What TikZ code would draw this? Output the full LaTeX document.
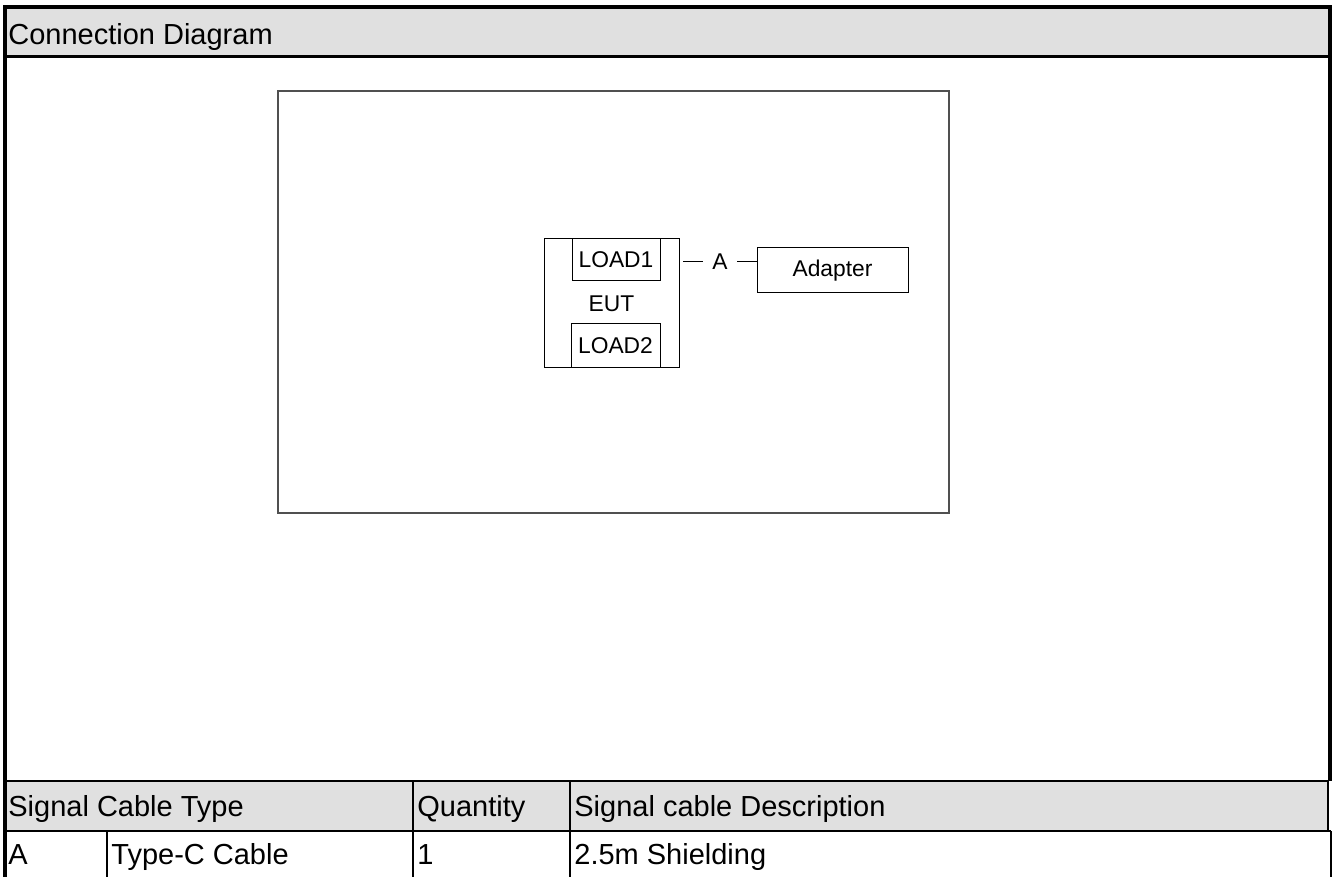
\documentclass[tikz,border=0pt]{standalone}
\usepackage{fontspec}
\setmainfont{Liberation Sans}
\usetikzlibrary{positioning}
\definecolor{hdrgray}{HTML}{E0E0E0}
\definecolor{boxgray}{HTML}{505050}

\begin{document}
\begin{tikzpicture}[x=0.5pt, y=-0.5pt,
    box/.style={draw, line width=0.5pt, inner sep=0pt, font=\fontsize{11.4}{13}\selectfont},
    cell/.style={anchor=base west, inner sep=0pt, font=\fontsize{14.5}{17}\selectfont},
    rule/.style={line width=1pt},
    frame/.style={line width=2pt}]
    \useasboundingbox (0,0) rectangle (1334,877);
    % title bar and table header
    \fill[hdrgray] (5,7) rectangle (1330,57);
    \fill[hdrgray] (5,781) rectangle (1328,831);
    \draw[frame] (5,877) -- (5,7) -- (1329.5,7) -- (1329.5,781);
    \draw[line width=1.5pt] (5,57) -- (1329.5,57);
    \node[cell] (title) at (8,45) {Connection Diagram};

    % test area
    \draw[boxgray, line width=0.7pt] (278,91) rectangle (949,513);
    \node[box, minimum width=67.5pt, minimum height=64.5pt] (eut) at (611.5,303.5) {EUT};
    \node[box, minimum width=44pt, minimum height=21pt] (load1) [below right = 0pt and 14pt of eut.north west] {LOAD1};
    \node[box, minimum width=44.5pt, minimum height=22pt] (load2) [above right = 0pt and 13.5pt of eut.south west] {LOAD2};
    \node[box, minimum width=75.5pt, minimum height=22.5pt] (adapter) at (832.5,270.5) {Adapter};
    \node[font=\fontsize{11.4}{13}\selectfont, inner xsep=4.7pt] (cableA) at (720,262) {A};
    \coordinate (cbl) at (683,262);
    \draw[line width=0.5pt] (cbl) -- (cableA.west);
    \draw[line width=0.5pt] (cableA.east) -- (adapter.west |- cableA);

    % cable table
    \draw[rule] (5,781) -- (1328,781);
    \draw[rule] (5,831) -- (1331,831);
    \draw[rule] (1328,781) -- (1328,831);
    \draw[rule] (1331,831) -- (1331,877);
    \draw[rule] (107,831) -- (107,877);
    \draw[rule] (413,781) -- (413,877);
    \draw[rule] (570,781) -- (570,877);
    \node[cell] (hType) at (8,816) {Signal Cable Type};
    \node[cell] (hQty) at (417,816) {Quantity};
    \node[cell] (hDesc) at (574,816) {Signal cable Description};
    \node[cell] (cA) at (8,864) {A};
    \node[cell] (cType) at (111,864) {Type-C Cable};
    \node[cell] (cQty) at (417,864) {1};
    \node[cell] (cDesc) at (574,864) {2.5m Shielding};
\end{tikzpicture}
\end{document}
